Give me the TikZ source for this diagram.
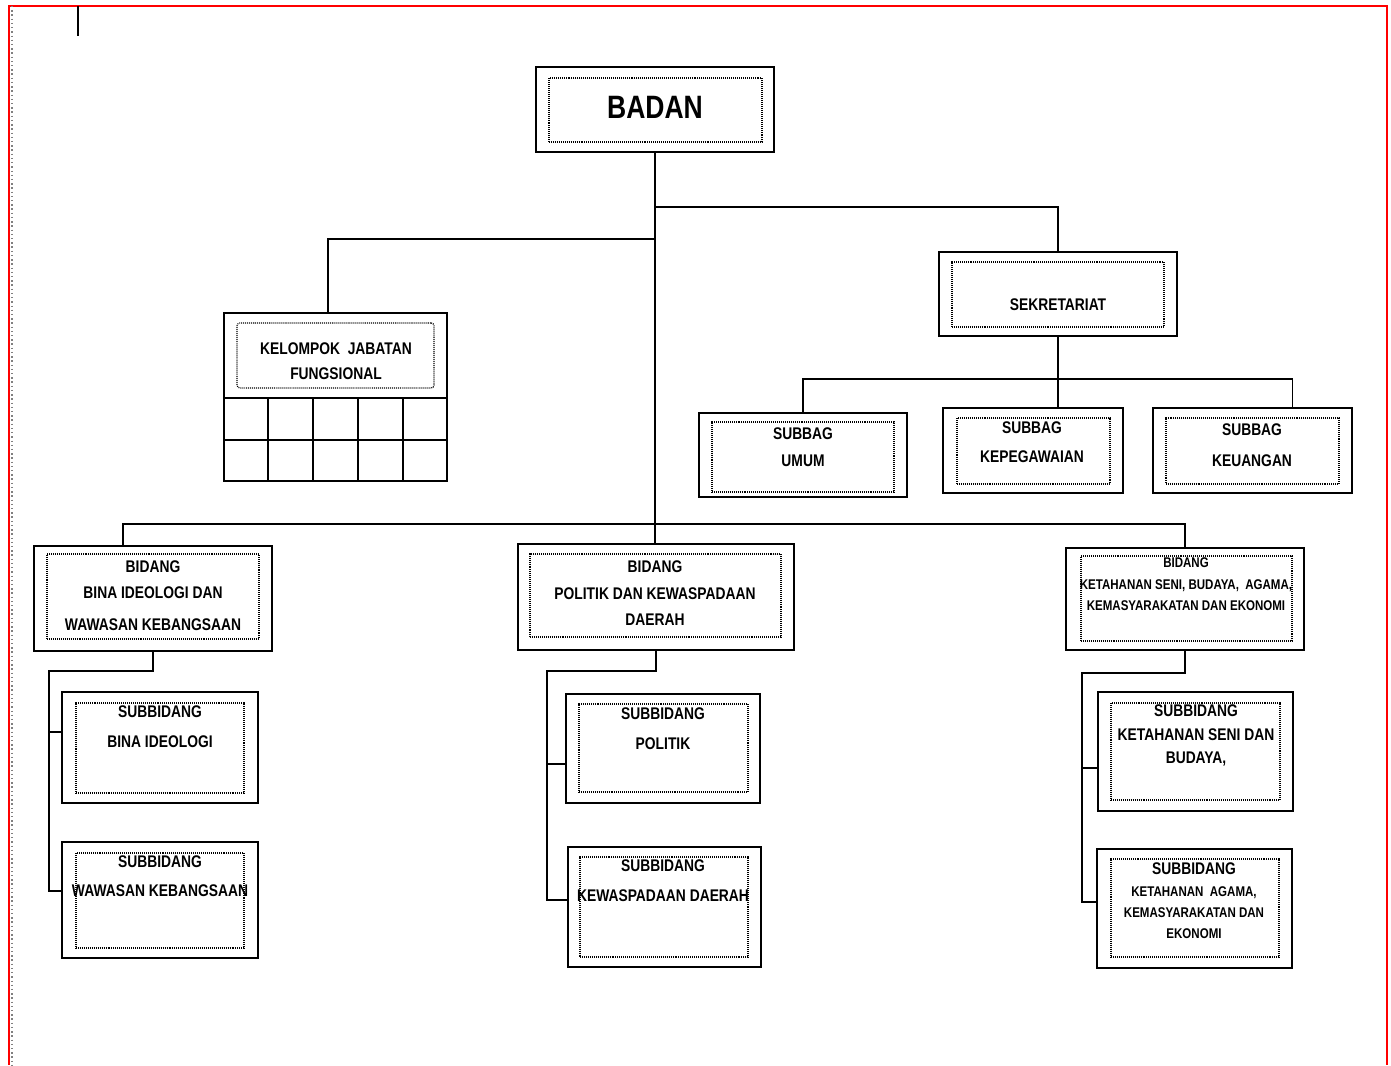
\documentclass[tikz,border=0pt]{standalone}
\usepackage{fontspec}
\setmainfont[FakeStretch=0.82]{Liberation Sans}
\usetikzlibrary{fit}
\begin{document}
\begin{tikzpicture}[x=0.025cm,y=-0.025cm]
  \tikzset{
    box/.style={draw, line width=1.2pt, inner sep=0pt},
    dotbox/.style={draw, line width=0.8pt, dash pattern=on 0.7pt off 0.7pt, inner sep=0pt},
    wire/.style={line width=1.2pt},
    lbl/.style={align=center, inner sep=0pt, font=\bfseries\fontsize{12}{21}\selectfont},
  }
  \useasboundingbox (0,0) rectangle (1391,1065);
  % page edge
  \draw[red, line width=1.4pt] (9,1065) -- (9,6) -- (1387,6) -- (1387,1065);
  \draw[gray, dotted, line width=1pt] (12,6) -- (12,1065);
  \draw[line width=1.5pt] (78,6) -- (78,36);
  %
  % badan
  \node[box, fit={(536,67) (774,152)}] (badan) {};
  \node[dotbox, fit={(549,78) (762,142)}] (badan-d) {};
  \node[lbl, font=\bfseries\fontsize{23}{26}\selectfont] (badan-t) at (655,107) {BADAN};
  %
  % sekretariat
  \node[box, fit={(939,252) (1177,336)}] (sekr) {};
  \node[dotbox, fit={(952,262) (1164,327)}] (sekr-d) {};
  \node[lbl] (sekr-t) at (1058,305) {SEKRETARIAT};
  %
  \node[box, fit={(699,413) (907,497)}] (umum) {};
  \node[dotbox, fit={(712,422) (894,492)}] (umum-d) {};
  \node[lbl, font=\bfseries\fontsize{12}{19.2}\selectfont] (umum-t) at (803,447.5) {SUBBAG\\UMUM};
  %
  \node[box, fit={(943,408) (1123,493)}] (kepeg) {};
  \node[dotbox, fit={(957,418) (1110,484)}] (kepeg-d) {};
  \node[lbl, font=\bfseries\fontsize{12}{20.6}\selectfont] (kepeg-t) at (1032,442.5) {SUBBAG\\KEPEGAWAIAN};
  %
  \node[box, fit={(1153,408) (1352,493)}] (keu) {};
  \node[dotbox, fit={(1166,418) (1339,484)}] (keu-d) {};
  \node[lbl, font=\bfseries\fontsize{12}{22}\selectfont] (keu-t) at (1252,445.5) {SUBBAG\\KEUANGAN};
  %
  % kelompok jabatan fungsional
  \node[box, fit={(224,313) (447,481)}] (kjf) {};
  \node[dotbox, rounded corners=2pt, fit={(237,323) (434,388)}] (kjf-d) {};
  \node[lbl, font=\bfseries\fontsize{12}{17.8}\selectfont] (kjf-t) at (336,361) {KELOMPOK\ \ JABATAN\\FUNGSIONAL};
  \draw[wire] (224,398) -- (447,398) (224,440) -- (447,440);
  \foreach \gx in {268,313,358,403}
    \draw[wire] (\gx,398) -- (\gx,481);
  %
  % bidang
  \node[box, fit={(34,546) (272,651)}] (bid1) {};
  \node[dotbox, fit={(47,554) (259,639)}] (bid1-d) {};
  \node[lbl, font=\bfseries\fontsize{12}{18.5}\selectfont] (bid1-t) at (153,596)
    {BIDANG\\BINA IDEOLOGI DAN\\[4.3pt]WAWASAN KEBANGSAAN};
  %
  \node[box, fit={(518,544) (794,650)}] (bid2) {};
  \node[dotbox, fit={(530,554) (781,637)}] (bid2-d) {};
  \node[lbl, font=\bfseries\fontsize{12}{18.8}\selectfont] (bid2-t) at (655,593.5)
    {BIDANG\\POLITIK DAN KEWASPADAAN\\DAERAH};
  %
  \node[box, fit={(1066,548) (1304,650)}] (bid3) {};
  \node[dotbox, fit={(1081,556) (1292,641)}] (bid3-d) {};
  \node[lbl, font=\bfseries\fontsize{10}{15.3}\selectfont] (bid3-t) at (1186,584.5)
    {BIDANG\\KETAHANAN SENI, BUDAYA,\ \ AGAMA,\\KEMASYARAKATAN DAN EKONOMI};
  %
  % subbidang
  \node[box, fit={(62,692) (258,803)}] (sb11) {};
  \node[dotbox, fit={(76,703) (244,793)}] (sb11-d) {};
  \node[lbl, font=\bfseries\fontsize{12}{21.3}\selectfont] (sb11-t) at (160,727) {SUBBIDANG\\BINA IDEOLOGI};
  %
  \node[box, fit={(62,842) (258,958)}] (sb12) {};
  \node[dotbox, fit={(76,853) (244,948)}] (sb12-d) {};
  \node[lbl, font=\bfseries\fontsize{12}{20.6}\selectfont] (sb12-t) at (160,876.5) {SUBBIDANG\\WAWASAN KEBANGSAAN};
  %
  \node[box, fit={(566,694) (760,803)}] (sb21) {};
  \node[dotbox, fit={(579,704) (748,792)}] (sb21-d) {};
  \node[lbl, font=\bfseries\fontsize{12}{21.3}\selectfont] (sb21-t) at (663,729) {SUBBIDANG\\POLITIK};
  %
  \node[box, fit={(568,847) (761,967)}] (sb22) {};
  \node[dotbox, fit={(580,857) (748,957)}] (sb22-d) {};
  \node[lbl, font=\bfseries\fontsize{12}{21.3}\selectfont] (sb22-t) at (663,881) {SUBBIDANG\\KEWASPADAAN DAERAH};
  %
  \node[box, fit={(1098,692) (1293,811)}] (sb31) {};
  \node[dotbox, fit={(1111,703) (1280,800)}] (sb31-d) {};
  \node[lbl, font=\bfseries\fontsize{12}{16.7}\selectfont] (sb31-t) at (1196,735.5) {SUBBIDANG\\KETAHANAN SENI DAN\\BUDAYA,};
  %
  \node[box, fit={(1097,849) (1292,968)}] (sb32) {};
  \node[dotbox, fit={(1111,859) (1279,957)}] (sb32-d) {};
  \node[lbl, font=\bfseries\fontsize{10}{15.2}\selectfont] (sb32-t) at (1194,901)
    {{\fontsize{12}{15.2}\selectfont SUBBIDANG}\\KETAHANAN\ \ AGAMA,\\KEMASYARAKATAN DAN\\EKONOMI};
  %
  % connectors
  \coordinate (hubA) at (655,207);
  \coordinate (hubB) at (655,239);
  \coordinate (hubC) at (655,524);
  \coordinate (hubS) at (1058,379);
  \draw[wire] (badan.south) -- (hubC);
  \draw[wire] (hubA) -| (sekr.north);
  \draw[wire] (hubB) -| ([xshift=-0.19cm]kjf.north);
  \draw[wire] (hubC) -| ([xshift=-0.75cm]bid1.north);
  \draw[wire] (hubC) -- (hubC |- bid2.north);
  \draw[wire] (hubC) -| (bid3.north);
  %
  \draw[wire] (sekr.south) -- (sekr.south |- kepeg.north);
  \draw[wire] (hubS) -| (umum.north);
  \draw[wire] (hubS) -| ([xshift=1cm]keu.north);
  %
  \coordinate (spL) at (49,671);
  \coordinate (spM) at (547,671);
  \coordinate (spR) at (1082,673);
  \draw[wire] (bid1.south) |- (spL) |- ([yshift=0.39cm]sb11.west);
  \draw[wire] (spL) |- ([yshift=0.22cm]sb12.west);
  \draw[wire] (bid2.south) |- (spM) |- ([yshift=-0.39cm]sb21.west);
  \draw[wire] (spM) |- ([yshift=0.17cm]sb22.west);
  \draw[wire] (bid3.south) |- (spR) |- ([yshift=-0.41cm]sb31.west);
  \draw[wire] (spR) |- ([yshift=0.16cm]sb32.west);
\end{tikzpicture}
\end{document}
